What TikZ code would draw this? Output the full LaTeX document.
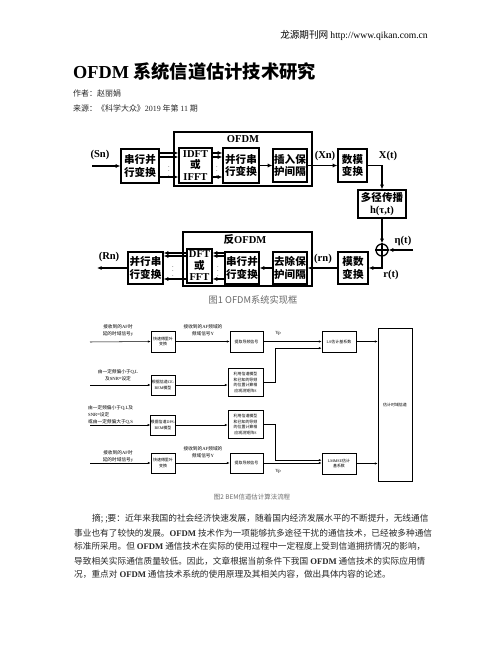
\documentclass[tikz,border=0pt]{standalone}
\usepackage{fontspec}
\setmainfont{Noto Sans CJK SC}
\newfontfamily\en{Liberation Serif}
\usepackage{xcolor}
\usetikzlibrary{arrows.meta, positioning}
\definecolor{corLegenda}{RGB}{105, 105, 105}
\definecolor{corTexto}{RGB}{40, 40, 40}

\begin{document}
\begin{tikzpicture}[
    x=0.03cm, y=-0.03cm,
    blk/.style={
        draw, line width=1.1pt, inner sep=0pt,
        align=center, font=\fontsize{9}{10.5}\selectfont\bfseries
    },
    frm/.style={draw, line width=1.1pt, inner sep=0pt},
    arr/.style={-{Latex[length=4pt, width=3.5pt]}, line width=1.1pt},
    sig/.style={inner sep=0pt, font=\en\fontsize{9}{10}\selectfont\bfseries},
    pts/.style={inner sep=0pt, font=\fontsize{5}{5}\selectfont},
    fbox/.style={
        draw, line width=0.45pt, inner sep=0pt,
        align=center, font=\fontsize{3.4}{5}\selectfont
    },
    farr/.style={-{Latex[length=2.5pt, width=2pt]}, line width=0.45pt},
    flbl/.style={inner sep=0pt, align=center, font=\fontsize{4}{6}\selectfont},
    body/.style={anchor=west, inner sep=0pt, font=\fontsize{7.4}{9}\selectfont, text=corTexto}
]
\useasboundingbox[fill=white] (0,0) rectangle (502,649);

% cabecalho
\node[anchor=east, inner sep=0pt, font=\fontsize{8.2}{10}\selectfont] (head) at (428,35)
    {龙源期刊网 {\en http://www.qikan.com.cn}};
\node[anchor=west, inner sep=0pt, font=\fontsize{15.6}{18}\selectfont\bfseries] (title) at (73,72)
    {{\en OFDM} 系统信道估计技术研究};
\node[anchor=west, inner sep=0pt, font=\fontsize{6.8}{8}\selectfont, text=corTexto] (author) at (73,93)
    {作者：赵丽娟};
\node[anchor=west, inner sep=0pt, font=\fontsize{6.8}{8}\selectfont, text=corTexto] (source) at (73,108)
    {来源：《科学大众》{\en 2019} 年第 {\en 11} 期};

% figura 1 -- transmissor
\node[blk, minimum width=1.14cm, minimum height=1.02cm] (SP1) at (140,166) {串行并\\行变换};
\node[frm, minimum width=4.14cm, minimum height=1.62cm] (OFDM) at (243,159) {};
\node[sig] (OFDMlbl) at (243,139) {OFDM};
\node[blk, minimum width=0.99cm, minimum height=1.05cm, font=\fontsize{9}{9.8}\selectfont\bfseries] (IDFT) at (195.5,165.5)
    {{\en IDFT}\\或\\{\en IFFT}};
\node[blk, minimum width=1.08cm, minimum height=1.05cm] (PS1) at (241,165.5) {并行串\\行变换};
\node[blk, minimum width=1.02cm, minimum height=0.99cm] (INS) at (290,165.5) {插入保\\护间隔};
\node[blk, minimum width=0.87cm, minimum height=0.99cm] (DA) at (352.5,165.5) {数模\\变换};
\node[blk, minimum width=1.44cm, minimum height=0.84cm] (MP) at (382,204) {多径传播\\{\en h(τ,t)}};

\coordinate (SNin) at (92,166);
\draw[arr] (SNin) -- (SP1.west);
\node[sig] (SNlbl) at (100,155) {(Sn)};
\foreach \yy in {153,157,177} {
    \draw[arr] (SP1.east |- 0,\yy) -- (IDFT.west |- 0,\yy);
    \draw[arr] (IDFT.east |- 0,\yy) -- (PS1.west |- 0,\yy);
}
\node[pts] (dotsA) at (169,168) {$\vdots$};
\node[pts] (dotsB) at (217,168) {$\vdots$};
\draw[arr] (PS1.east) -- (INS.west);
\draw[arr] (INS.east) -- (DA.west);
\node[sig] (XNlbl) at (325,156) {(Xn)};
\draw[arr] (DA.east) -| (MP.north);
\node[sig] (XTlbl) at (388,156) {X(t)};

% figura 1 -- receptor
\node[draw, circle, line width=1.1pt, minimum size=0.36cm, inner sep=0pt] (ADD) at (382,250) {};
\draw[line width=1.1pt] (ADD.north) -- (ADD.south) (ADD.west) -- (ADD.east);
\draw[arr] (MP.south) -- (ADD.north);
\coordinate (ETAin) at (413,250);
\draw[arr] (ETAin) -- (ADD.east);
\node[sig] (ETAlbl) at (403,241) {η(t)};

\node[frm, minimum width=3.87cm, minimum height=1.62cm] (IOFDM) at (247.5,259) {};
\node[sig, font=\fontsize{9}{10}\selectfont\bfseries] (IOFDMlbl) at (245,240) {反{\en OFDM}};
\node[blk, minimum width=0.9cm, minimum height=0.96cm] (AD) at (353,268) {模数\\变换};
\node[blk, minimum width=1.02cm, minimum height=0.96cm] (REM) at (290,268) {去除保\\护间隔};
\node[blk, minimum width=1.02cm, minimum height=0.96cm] (SP2) at (242,268) {串行并\\行变换};
\node[blk, minimum width=0.75cm, minimum height=1.02cm, font=\fontsize{9}{9.8}\selectfont\bfseries] (DFT) at (199.5,266)
    {{\en DFT}\\或\\{\en FFT}};
\node[blk, minimum width=1.05cm, minimum height=0.96cm] (PS2) at (145.5,268) {并行串\\行变换};

\draw[arr] (ADD.south) |- (AD.east);
\node[sig] (RTlbl) at (391,275) {r(t)};
\draw[arr] (AD.west) -- (REM.east);
\node[sig] (RNlbl) at (323,259) {(rn)};
\draw[arr] (REM.west) -- (SP2.east);
\foreach \yy in {253,256,279} {
    \draw[arr] (SP2.west |- 0,\yy) -- (DFT.east |- 0,\yy);
    \draw[arr] (DFT.west |- 0,\yy) -- (PS2.east |- 0,\yy);
}
\node[pts] (dotsC) at (218,268) {$\vdots$};
\node[pts] (dotsD) at (173,268) {$\vdots$};
\coordinate (RNout) at (97,268);
\draw[arr] (PS2.west) -- (RNout);
\node[sig] (ROlbl) at (109,257) {(Rn)};

\node[font=\fontsize{7.9}{9}\selectfont, text=corLegenda, inner sep=0pt] (cap1) at (253,300) {图1 OFDM系统实现框};

% figura 2
\node[fbox, minimum width=0.72cm, minimum height=0.63cm] (FFT1) at (163,341.5) {快速傅里叶\\变换};
\node[fbox, minimum width=0.99cm, minimum height=0.63cm] (PIL1) at (246.5,341.5) {提取导频信号};
\node[fbox, minimum width=1.02cm, minimum height=0.63cm] (LS) at (339,341.5) {{\en LS}估计基系数};
\node[fbox, minimum width=1.02cm, minimum height=4.59cm] (EST) at (395,404.5) {估计时域信道};

\node[fbox, minimum width=0.72cm, minimum height=0.6cm] (BEM1) at (163,385) {根据信道{\en CE-}\\{\en BEM}模型};
\node[fbox, minimum width=1.05cm, minimum height=0.84cm] (OBS1) at (245.5,382.5)
    {利用信道模型\\和已知的导频\\的位置计算相\\应观测矩阵{\en S}};
\node[fbox, minimum width=0.72cm, minimum height=0.6cm] (BEM2) at (163,425) {根据信道{\en DPS-}\\{\en BEM}模型};
\node[fbox, minimum width=1.05cm, minimum height=0.84cm] (OBS2) at (245.5,424.5)
    {利用信道模型\\和已知的导频\\的位置计算相\\应观测矩阵{\en S}};

\node[fbox, minimum width=0.72cm, minimum height=0.6cm] (FFT2) at (163,463) {快速傅里叶\\变换};
\node[fbox, minimum width=0.99cm, minimum height=0.6cm] (PIL2) at (246.5,463) {提取导频信号};
\node[fbox, minimum width=1.02cm, minimum height=0.63cm] (LMMSE) at (339,463.5) {{\en LMMSE}估计\\基系数};

\coordinate (IN1) at (90,342);
\coordinate (IN2) at (90,385);
\coordinate (IN3) at (90,425);
\coordinate (IN4) at (90,463);

\draw[farr] (IN1) -- (FFT1.west);
\node[flbl] (L1) at (118,330.5) {接收到的{\en AF}时\\延的时域信号{\en y}};
\draw[farr] (FFT1.east) -- (PIL1.west);
\node[flbl] (L2) at (203,330) {接收到的{\en AF}频域的\\频域信号{\en Y}};
\draw[farr] (PIL1.east) -- (LS.west);
\node[flbl] (YP1) at (278,333) {{\en Yp}};
\draw[farr] (OBS1.east) -- (275,382.5) |- ([yshift=-0.2cm]LS.west);
\draw[farr] (LS.east) -- (LS.east -| EST.west);

\draw[farr] (IN2) -- (BEM1.west);
\node[flbl] (L3) at (118,375.5) {由一定频偏小于{\en Q,L}\\及{\en SNR}=设定};
\draw[farr] (BEM1.east) -- (BEM1.east -| OBS1.west);

\draw[farr] (IN3) -- (BEM2.west);
\node[flbl, anchor=west, align=left] (L4) at (88,415) {由一定频偏小于{\en Q,L}及\\{\en SNR}=设定\\或由一定频偏大于{\en Q,S}};
\draw[farr] (BEM2.east) -- (BEM2.east -| OBS2.west);
\draw[farr] (OBS2.east) -- (275,424.5) |- ([yshift=0.1cm]LMMSE.west);

\draw[farr] (IN4) -- (FFT2.west);
\node[flbl] (L5) at (118,456.5) {接收到的{\en AF}时\\延的时域信号{\en y}};
\draw[farr] (FFT2.east) -- (PIL2.west);
\node[flbl] (L6) at (203,452) {接收到的{\en AF}频域的\\频域信号{\en Y}};
\draw[farr] (PIL2.east) -- (PIL2.east -| LMMSE.west);
\node[flbl] (YP2) at (278,471) {{\en Yp}};
\draw[farr] (LMMSE.east) -- (LMMSE.east -| EST.west);

\node[font=\fontsize{5.5}{6}\selectfont, text=corLegenda, inner sep=0pt] (cap2) at (252,497) {图2 BEM信道估计算法流程};

% resumo
\node[body] (T1) at (92,519) {摘; ;要：近年来我国的社会经济快速发展，随着国内经济发展水平的不断提升，无线通信};
\node[body] (T2) at (74,533) {事业也有了较快的发展。{\en\bfseries OFDM} 技术作为一项能够抗多途径干扰的通信技术，已经被多种通信};
\node[body] (T3) at (74,546) {标准所采用。但 {\en\bfseries OFDM} 通信技术在实际的使用过程中一定程度上受到信道拥挤情况的影响，};
\node[body] (T4) at (74,561) {导致相关实际通信质量较低。因此，文章根据当前条件下我国 {\en\bfseries OFDM} 通信技术的实际应用情};
\node[body] (T5) at (74,574) {况，重点对 {\en\bfseries OFDM} 通信技术系统的使用原理及其相关内容，做出具体内容的论述。};

\end{tikzpicture}
\end{document}
